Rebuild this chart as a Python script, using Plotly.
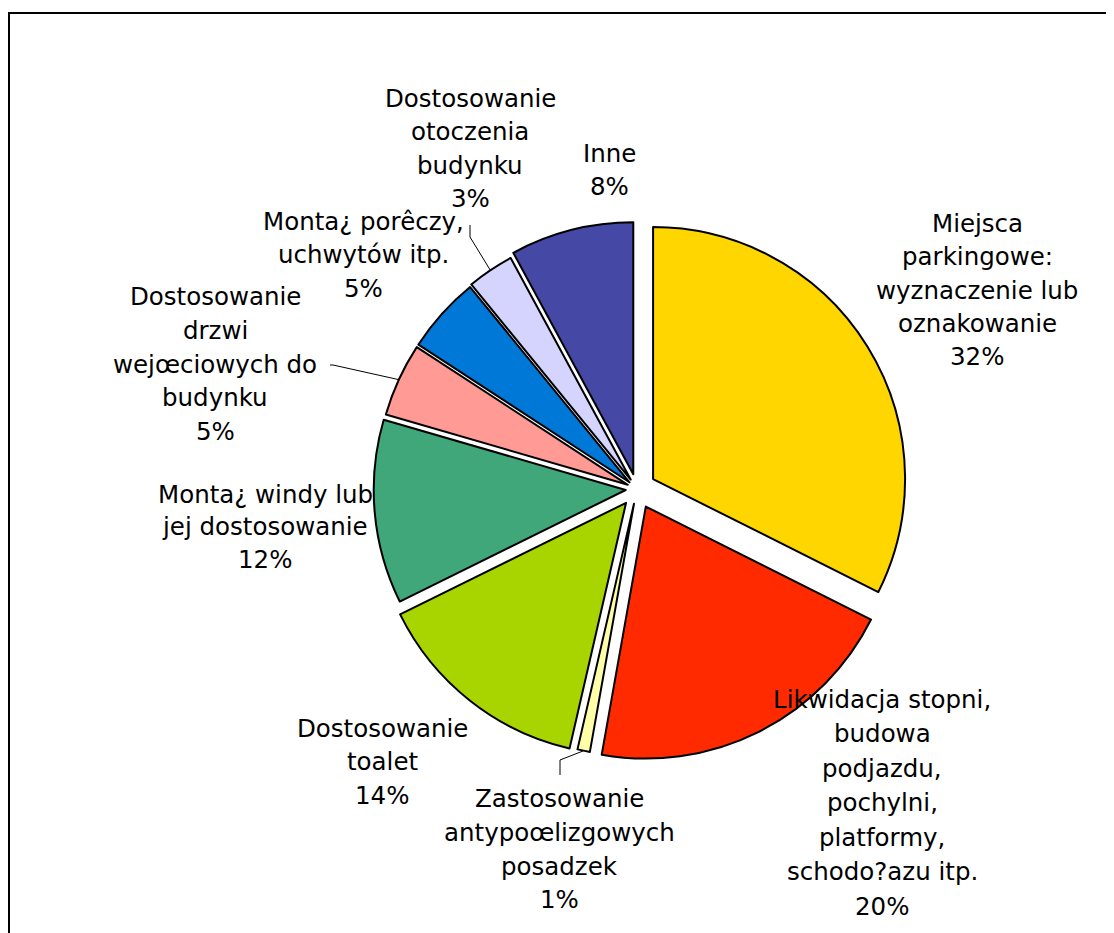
import math
import plotly.graph_objects as go

# Browser body margin is 8px; the figure is sized so it ends at the window edge.
OFF = 8
W, H = 1114 - OFF, 933 - OFF

# ---------------- data ----------------
categories = [
    "Miejsca parkingowe: wyznaczenie lub oznakowanie",
    "Likwidacja stopni, budowa podjazdu, pochylni, platformy, schodo?azu itp.",
    "Zastosowanie antypoœlizgowych posadzek",
    "Dostosowanie toalet",
    "Monta¿ windy lub jej dostosowanie",
    "Dostosowanie drzwi wejœciowych do budynku",
    "Monta¿ porêczy, uchwytów itp.",
    "Dostosowanie otoczenia budynku",
    "Inne",
]
label_lines = [
    ["Miejsca", "parkingowe:", "wyznaczenie lub", "oznakowanie"],
    ["Likwidacja stopni,", "budowa", "podjazdu,", "pochylni,", "platformy,", "schodo?azu itp."],
    ["Zastosowanie", "antypoœlizgowych", "posadzek"],
    ["Dostosowanie", "toalet"],
    ["Monta¿ windy lub", "jej dostosowanie"],
    ["Dostosowanie", "drzwi", "wejœciowych do", "budynku"],
    ["Monta¿ porêczy,", "uchwytów itp."],
    ["Dostosowanie", "otoczenia", "budynku"],
    ["Inne"],
]
values = [32.4, 20.4, 0.8, 14.1, 11.8, 4.7, 4.9, 3.0, 7.9]

# ---------------- styles / layout ----------------
colors = ["#FFD600", "#FF2A00", "#FFFFAA", "#A8D400", "#3FA77A",
          "#FF9A94", "#0078D7", "#D4D4FF", "#4648A6"]
pulls = [0.075, 0.078, 0.06, 0.07, 0.045, 0.04, 0.04, 0.045, 0.06]

FONT = "DejaVu Sans"
FS = 24.5

# pie geometry (screen pixels)
CX, CY, R = 637, 489, 252
maxpull = max(pulls)
box = 2 * R * (1 + maxpull)


def px2paper(x, y):
    return (x - OFF) / W, 1 - (y - OFF) / H


dom_x = [(CX - box / 2 - OFF) / W, (CX + box / 2 - OFF) / W]
dom_y = [1 - (CY + box / 2 - OFF) / H, 1 - (CY - box / 2 - OFF) / H]

# label positions: (center x px, first baseline y px, line spacing px)
label_pos = [
    (977, 232, 33.3),
    (882, 708, 34.5),
    (559, 807, 33.8),
    (382, 737, 33.3),
    (265, 503, 32.5),
    (215, 305, 33.8),
    (363, 230, 33.5),
    (470, 107, 33.3),
    (609, 162, 33.3),
]
# leader lines: slice index -> list of elbow/end points (px)
leaders = {
    7: [(470, 237), (470, 225)],
    5: [(333, 365), (330, 365)],
    2: [(560, 760), (560, 775)],
}

total = sum(values)
percent_text = [f"{round(v / total * 100)}%" for v in values]

fig = go.Figure(go.Pie(
    labels=categories,
    values=values,
    sort=False,
    direction="clockwise",
    rotation=0,
    pull=pulls,
    marker=dict(colors=colors, line=dict(color="black", width=2)),
    textinfo="none",
    hoverinfo="label+percent",
    domain=dict(x=dom_x, y=dom_y),
    showlegend=False,
))

annotations = []
for i, lines in enumerate(label_lines):
    lx, ly, sp = label_pos[i]
    all_lines = lines + [percent_text[i]]
    for j, t in enumerate(all_lines):
        yb = ly + j * sp
        x, y = px2paper(lx, yb - 0.35 * FS)
        annotations.append(dict(
            x=x, y=y, xref="paper", yref="paper", text=t, showarrow=False,
            xanchor="center", yanchor="middle",
            font=dict(family=FONT, size=FS, color="black"),
        ))

shapes = []
# frame (extends past right and bottom edges of the window)
fx0, fy0 = px2paper(9, 13)
shapes.append(dict(type="rect", xref="paper", yref="paper",
                   x0=fx0, y0=-0.02, x1=1.02, y1=fy0,
                   line=dict(color="black", width=2), fillcolor="rgba(0,0,0,0)"))

# leader lines computed from slice geometry
cum = 0
starts = []
for v in values:
    starts.append(cum)
    cum += v
for idx, pts in leaders.items():
    mid = (starts[idx] + values[idx] / 2) / total
    th = 2 * math.pi * mid
    rr = R * (1 + pulls[idx])
    sx = CX + rr * math.sin(th)
    sy = CY - rr * math.cos(th)
    path_pts = [(sx, sy)] + pts
    for k in range(len(path_pts) - 1):
        x0, y0 = px2paper(*path_pts[k])
        x1, y1 = px2paper(*path_pts[k + 1])
        shapes.append(dict(type="line", xref="paper", yref="paper",
                           x0=x0, y0=y0, x1=x1, y1=y1,
                           line=dict(color="black", width=1)))

fig.update_layout(
    width=W, height=H,
    margin=dict(l=0, r=0, t=0, b=0),
    paper_bgcolor="white", plot_bgcolor="white",
    annotations=annotations,
    shapes=shapes,
    font=dict(family=FONT),
)

fig.write_html("out.html")
